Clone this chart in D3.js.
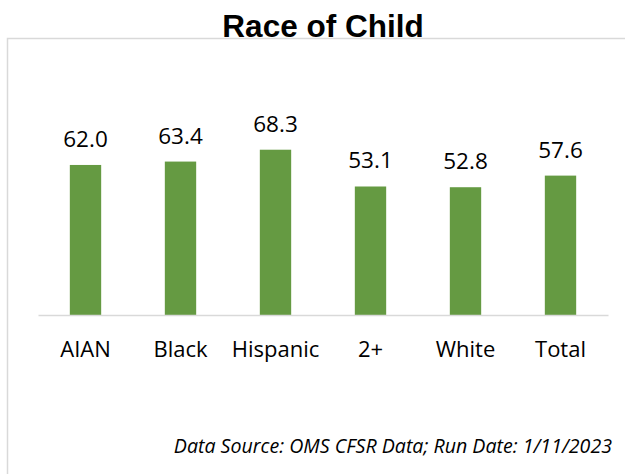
<!DOCTYPE html>
<html>
<head>
<meta charset="utf-8">
<script src="https://cdn.jsdelivr.net/npm/d3@7/dist/d3.min.js"></script>
<style>
  html, body { margin: 0; padding: 0; background: #fff; }
  svg { display: block; }
</style>
</head>
<body>
<svg id="chart" width="625" height="474"></svg>
<script>
// Percent by race of child
const categories = ["AIAN", "Black", "Hispanic", "2+", "White", "Total"];
const values = [62.0, 63.4, 68.3, 53.1, 52.8, 57.6];
const titleText = "Race of Child";
const sourceText = "Data Source: OMS CFSR Data; Run Date: 1/11/2023";

const svg = d3.select("#chart");

// chart frame (extends past the right and bottom edges)
svg.append("rect")
  .attr("x", 7.5).attr("y", 38.5)
  .attr("width", 700).attr("height", 500)
  .attr("fill", "none")
  .attr("stroke", "#d9d9d9")
  .attr("stroke-width", 1.5);

// title
svg.append("text")
  .attr("x", 323).attr("y", 37)
  .attr("text-anchor", "middle")
  .attr("font-family", "'Liberation Sans', Arial, sans-serif")
  .attr("font-weight", "bold")
  .attr("font-size", 31.5)
  .attr("fill", "#000")
  .text(titleText);

const plot = { left: 38, right: 608, base: 315 };

const x = d3.scaleBand()
  .domain(categories)
  .range([plot.left, plot.right])
  .paddingInner(0.67)
  .paddingOuter(0.335);

const y = d3.scaleLinear()
  .domain([0, 80])
  .range([plot.base, plot.base - 80 * 2.42]);

// bars
svg.append("g").selectAll("rect")
  .data(values)
  .join("rect")
  .attr("x", (d, i) => x(categories[i]))
  .attr("y", d => y(d))
  .attr("width", x.bandwidth())
  .attr("height", d => y(0) - y(d))
  .attr("fill", "#659a42");

// value labels
svg.append("g").selectAll("text")
  .data(values)
  .join("text")
  .attr("x", (d, i) => x(categories[i]) + x.bandwidth() / 2)
  .attr("y", d => y(d) - 18)
  .attr("text-anchor", "middle")
  .attr("font-family", "'Open Sans', sans-serif")
  .attr("font-size", 22.5)
  .attr("fill", "#000")
  .text(d => d.toFixed(1));

// category axis
const axis = svg.append("g")
  .attr("transform", `translate(0,${plot.base})`)
  .call(d3.axisBottom(x).tickSize(0).tickPadding(42));
axis.select(".domain")
  .attr("stroke", "#d9d9d9")
  .attr("stroke-width", 1.5);
axis.selectAll(".tick text")
  .attr("font-family", "'Open Sans', sans-serif")
  .attr("font-size", 22)
  .attr("fill", "#000")
  .attr("dy", 0);

// source note
svg.append("text")
  .attr("x", 612).attr("y", 453)
  .attr("text-anchor", "end")
  .attr("font-family", "'Open Sans', sans-serif")
  .attr("font-style", "italic")
  .attr("font-size", 19.6)
  .attr("fill", "#000")
  .text(sourceText);
</script>
</body>
</html>
